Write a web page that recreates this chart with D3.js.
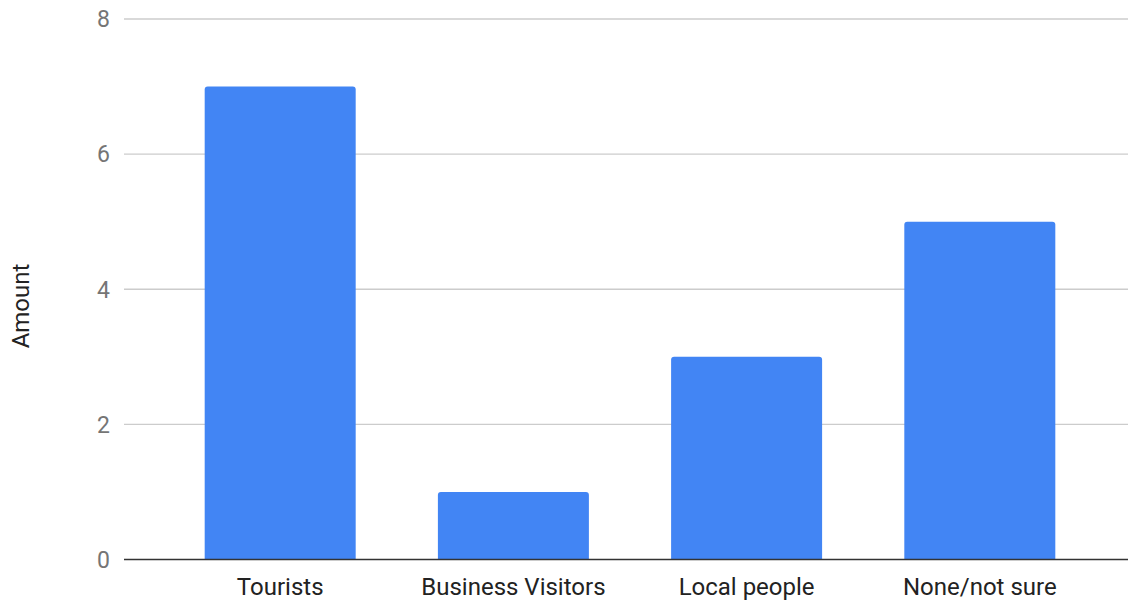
<!DOCTYPE html>
<html>
<head>
<meta charset="utf-8">
<script src="https://cdn.jsdelivr.net/npm/d3@7"></script>
<style>
  html, body { margin: 0; padding: 0; background: #fff; }
  svg { display: block; }
  text { font-family: Roboto, "Noto Sans", sans-serif; }
</style>
</head>
<body>
<svg id="chart" width="1128" height="602"></svg>
<script>
const categories = ["Tourists", "Business Visitors", "Local people", "None/not sure"];
const values = [7, 1, 3, 5];
const yTicks = [0, 2, 4, 6, 8];
const yLabel = "Amount";

const W = 1128, H = 602;
const svg = d3.select("#chart");

const x = d3.scaleBand()
  .domain(categories)
  .range([124, 1136])
  .paddingInner(0.3525)
  .paddingOuter(0.346);

const y = d3.scaleLinear().domain([0, 8]).range([559.5, 19]);

// gridlines
svg.append("g").selectAll("line")
  .data(yTicks.filter(d => d !== 0))
  .join("line")
  .attr("x1", 124).attr("x2", W)
  .attr("y1", d => y(d)).attr("y2", d => y(d))
  .attr("stroke", "#cccccc").attr("stroke-width", 1.3);

// y tick labels
svg.append("g").selectAll("text")
  .data(yTicks)
  .join("text")
  .attr("x", 110)
  .attr("y", d => y(d))
  .attr("dy", "0.36em")
  .attr("text-anchor", "end")
  .attr("fill", "#757575")
  .attr("font-size", 23)
  .text(d => d);

// bars with rounded top corners
const r = 3;
svg.append("g").selectAll("path")
  .data(values)
  .join("path")
  .attr("fill", "#4285f4")
  .attr("d", (d, i) => {
    const x0 = x(categories[i]), w = x.bandwidth();
    const y0 = y(d), yb = y(0);
    return `M${x0},${yb} L${x0},${y0 + r} Q${x0},${y0} ${x0 + r},${y0} L${x0 + w - r},${y0} Q${x0 + w},${y0} ${x0 + w},${y0 + r} L${x0 + w},${yb} Z`;
  });

// baseline
svg.append("line")
  .attr("x1", 124).attr("x2", W)
  .attr("y1", y(0)).attr("y2", y(0))
  .attr("stroke", "#333333").attr("stroke-width", 1.5);

// category labels
svg.append("g").selectAll("text")
  .data(categories)
  .join("text")
  .attr("x", d => x(d) + x.bandwidth() / 2)
  .attr("y", 595)
  .attr("text-anchor", "middle")
  .attr("fill", "#222222")
  .attr("font-size", 24)
  .text(d => d);

// y axis title
svg.append("text")
  .attr("transform", "translate(29,306) rotate(-90)")
  .attr("text-anchor", "middle")
  .attr("fill", "#222222")
  .attr("font-size", 24)
  .text(yLabel);
</script>
</body>
</html>
